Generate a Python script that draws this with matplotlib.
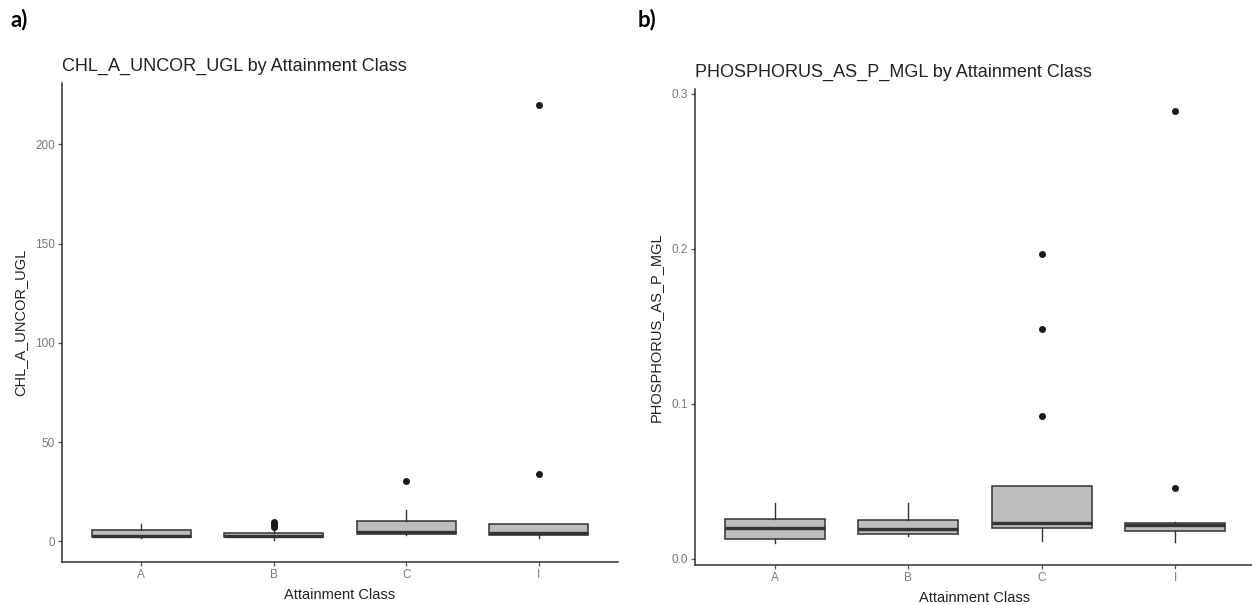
import matplotlib
matplotlib.use("Agg")
import matplotlib.pyplot as plt

# categories
classes = ["A", "B", "C", "I"]

# CHL_A_UNCOR_UGL box stats
chl_whislo = [1.8, 0.6, 3.0, 1.5]
chl_q1 = [2.0, 2.0, 3.5, 3.0]
chl_med = [2.6, 2.8, 4.5, 4.0]
chl_q3 = [5.6, 4.0, 10.1, 8.6]
chl_whishi = [8.6, 6.0, 15.6, 8.6]
chl_fliers = [[], [7.4, 8.0, 8.6, 9.2, 9.8], [30.2], [33.8, 220.0]]

# PHOSPHORUS_AS_P_MGL box stats
p_whislo = [0.0099, 0.0146, 0.0114, 0.0110]
p_q1 = [0.0129, 0.0157, 0.0200, 0.0176]
p_med = [0.0197, 0.0193, 0.0232, 0.0219]
p_q3 = [0.0258, 0.0247, 0.0472, 0.0232]
p_whishi = [0.0360, 0.0360, 0.0472, 0.0240]
p_fliers = [[], [], [0.0919, 0.1484, 0.1966], [0.0455, 0.289]]

chl_ticks = [0, 50, 100, 150, 200]
p_ticks = [0.0, 0.1, 0.2, 0.3]
p_ticklabels = ["0.0", "0.1", "0.2", "0.3"]

plt.rcParams['font.family'] = ['Liberation Sans', 'DejaVu Sans']


def make_stats(lo, q1, med, q3, hi, fl):
  stats = []
  for i in range(len(classes)):
    stats.append(dict(whislo=lo[i], q1=q1[i], med=med[i], q3=q3[i],
                      whishi=hi[i], fliers=fl[i], label=classes[i]))
  return stats


def plott(ax, stats, var, ticks, ticklabels):
  ax.bxp(stats, positions=range(1, len(classes) + 1), widths=0.75,
         patch_artist=True, showcaps=False,
         boxprops=dict(facecolor='#bdbdbd', edgecolor='#333333', linewidth=1.1),
         medianprops=dict(color='#333333', linewidth=2.4),
         whiskerprops=dict(color='#333333', linewidth=1.0),
         flierprops=dict(marker='o', markerfacecolor='#1a1a1a',
                         markeredgecolor='#1a1a1a', markersize=4))

  # ggplot style 5% expansion
  allv = [s['whislo'] for s in stats] + [s['whishi'] for s in stats]
  for s in stats:
    allv += list(s['fliers'])
  lo, hi = min(allv), max(allv)
  ax.set_ylim(lo - 0.05 * (hi - lo), hi + 0.05 * (hi - lo))
  ax.set_xlim(0.4, len(classes) + 0.6)

  ax.set_yticks(ticks)
  ax.set_yticklabels(ticklabels)
  ax.set_xticks(range(1, len(classes) + 1))
  ax.set_xticklabels(classes)

  for side in ['top', 'right']:
    ax.spines[side].set_visible(False)
  for side in ['left', 'bottom']:
    ax.spines[side].set_color('#333333')
    ax.spines[side].set_linewidth(1.1)
  ax.tick_params(length=3, width=0.9, color='#555555', labelcolor='#7a7a7a',
                 labelsize=8.5, pad=2)

  ax.set_title(f"{var} by Attainment Class", loc='left', fontsize=13,
               color='#222222', pad=9)
  ax.set_ylabel(var, fontsize=10.5, color='#222222', labelpad=6)
  ax.set_xlabel("Attainment Class", fontsize=10.5, color='#222222', labelpad=5)


fig = plt.figure(figsize=(12.52, 6.05), dpi=100)
ax1 = fig.add_axes([0.0495, 0.0711, 0.4441, 0.7917])
ax2 = fig.add_axes([0.5551, 0.0661, 0.4473, 0.7868])

plott(ax1, make_stats(chl_whislo, chl_q1, chl_med, chl_q3, chl_whishi, chl_fliers),
      "CHL_A_UNCOR_UGL", chl_ticks, [str(t) for t in chl_ticks])
plott(ax2, make_stats(p_whislo, p_q1, p_med, p_q3, p_whishi, p_fliers),
      "PHOSPHORUS_AS_P_MGL", p_ticks, p_ticklabels)

fig.text(0.008, 0.967, "a)", fontsize=16, fontweight='bold', family='Lato', va='center')
fig.text(0.509, 0.967, "b)", fontsize=16, fontweight='bold', family='Lato', va='center')

fig.savefig("out.png", dpi=100)
